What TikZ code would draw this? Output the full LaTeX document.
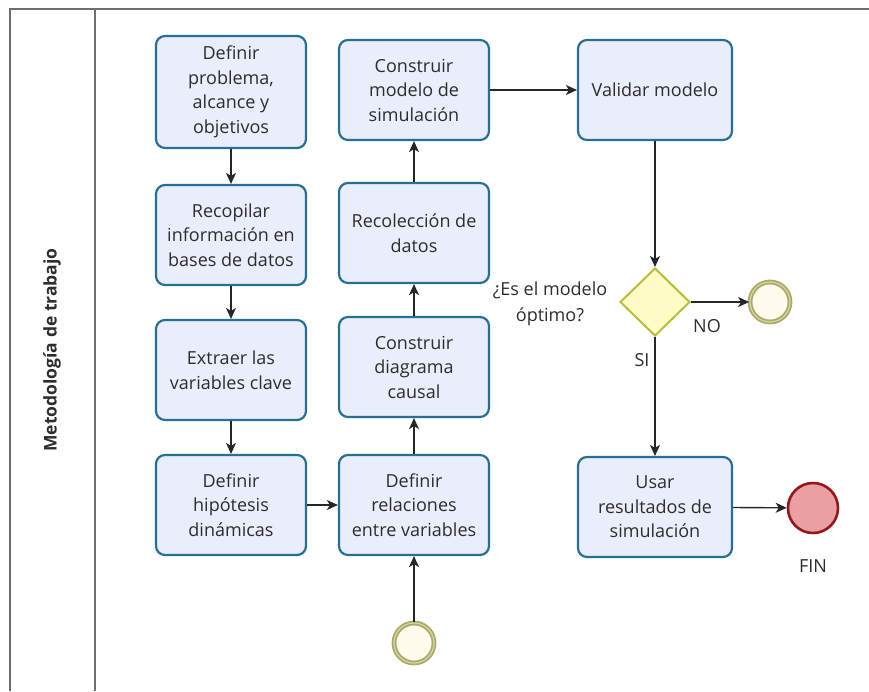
\documentclass[tikz,border=0pt]{standalone}
\usepackage{fontspec}
\setmainfont{Open Sans}
\usetikzlibrary{shapes.geometric,arrows.meta}
\definecolor{boxfill}{RGB}{234,237,251}
\definecolor{boxline}{RGB}{38,112,150}
\definecolor{gwfill}{RGB}{252,252,196}
\definecolor{gwline}{RGB}{186,188,60}
\definecolor{evline}{RGB}{172,170,100}
\definecolor{evmid}{RGB}{214,212,170}
\definecolor{evfill}{RGB}{255,252,238}
\definecolor{finfill}{RGB}{234,160,162}
\definecolor{finline}{RGB}{150,22,26}
\definecolor{poolline}{RGB}{110,110,110}
\definecolor{txt}{RGB}{45,45,45}
\tikzset{
  task/.style={draw=boxline, line width=2.2pt, fill=boxfill, rounded corners=9pt,
    minimum width=150pt, minimum height=100pt, align=center, text=txt,
    font=\fontsize{18}{24.5}\selectfont, inner sep=0pt},
  gw/.style={diamond, draw=gwline, line width=2pt, fill=gwfill, minimum width=70pt, minimum height=68pt, inner sep=0pt},
  evt/.style={circle, draw=evline, line width=1.8pt, double=evmid, double distance=1.2pt, fill=evfill, minimum size=40pt, inner sep=0pt},
  fin/.style={circle, draw=finline, line width=2.6pt, fill=finfill, minimum size=50pt, inner sep=0pt},
  flow/.style={draw=black!85, line width=1.4pt, -{Stealth[length=11pt,width=10pt,inset=3pt]}},
  lbl/.style={text=txt, font=\fontsize{18}{26}\selectfont, align=center, inner sep=0pt}
}
\begin{document}
\begin{tikzpicture}[x=1pt,y=-1pt]
\useasboundingbox (0,0) rectangle (869,691);
% pool
\draw[poolline, line width=2pt] (10,691) -- (10,9) -- (869,9);
\draw[poolline, line width=2pt] (95,9) -- (95,691);
\node[rotate=90, font=\bfseries\fontsize{17.5}{20}\selectfont, text=txt] (lane) at (52,350) {Metodología de trabajo};
% column 1
\node[task, minimum height=112pt] (t1) at (231,92) {Definir\\problema,\\alcance y\\objetivos};
\node[task] (t2) at (231,235) {Recopilar\\información en\\bases de datos};
\node[task] (t3) at (231,370) {Extraer las\\variables clave};
\node[task] (t4) at (231,505) {Definir\\hipótesis\\dinámicas};
% column 2
\node[task] (a) at (414,90) {Construir\\modelo de\\simulación};
\node[task] (b) at (414,233) {Recolección de\\datos};
\node[task] (c) at (414,367) {Construir\\diagrama\\causal};
\node[task] (d) at (414,505) {Definir\\relaciones\\entre variables};
% column 3
\node[task, minimum width=154pt] (v) at (655,90) {Validar modelo};
\node[task, minimum width=154pt] (u) at (655,507) {Usar\\resultados de\\simulación};
\node[gw] (g) at (655,302) {};
\node[lbl] (q) at (550,304) {¿Es el modelo\\óptimo?};
\node[evt] (e1) at (770,302) {};
\node[evt] (s) at (414,643) {};
\node[fin] (f) at (813,508) {};
\node[lbl] (fl) at (813,566) {FIN};
% flows
\draw[flow] (t1) -- (t2);
\draw[flow] (t2) -- (t3);
\draw[flow] (t3) -- (t4);
\draw[flow] (t4) -- (d);
\draw[flow] (s) -- (d);
\draw[flow] (d) -- (c);
\draw[flow] (c) -- (b);
\draw[flow] (b) -- (a);
\draw[flow] (a) -- (v);
\draw[flow] (v) -- (g);
\draw[flow] (g) -- (e1);
\draw[flow] (g) -- (u);
\draw[flow] (u) -- (f);
\node[lbl] (no) at (707,326) {NO};
\node[lbl] (si) at (642,360) {SI};
\end{tikzpicture}
\end{document}
